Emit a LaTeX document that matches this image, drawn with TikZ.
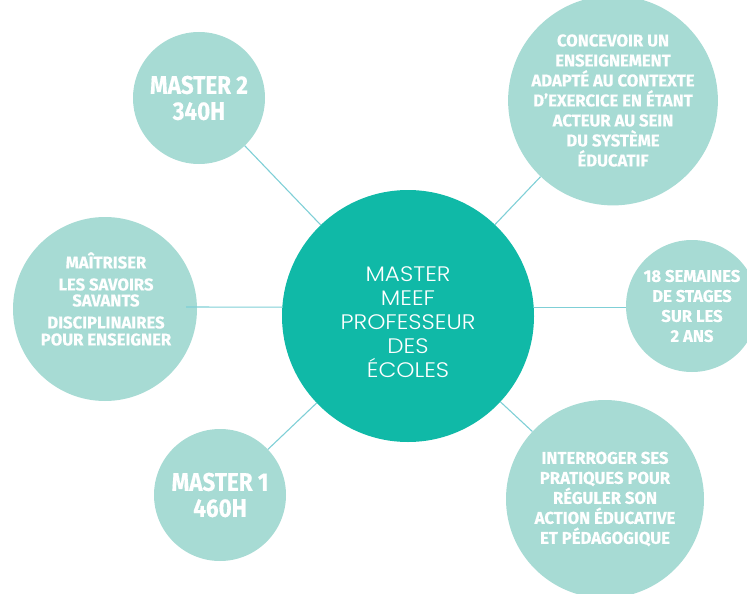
\documentclass[tikz,border=0pt]{standalone}
\usepackage{fontspec}
\newfontfamily\condfont[FakeStretch=0.88,FakeBold=0.4]{Fira Sans Bold}
\newfontfamily\midfont[FakeStretch=0.98,FakeBold=0.5]{Fira Sans Bold}
\newfontfamily\ctrfont[FakeStretch=1.1]{Poppins Light}
\definecolor{outerfill}{HTML}{A7DBD4}
\definecolor{centerfill}{HTML}{10B9A7}
\definecolor{linkcol}{HTML}{7FCFD6}
\begin{document}
\begin{tikzpicture}[x=1pt,y=-1pt,
  bubble/.style={circle, fill=outerfill, draw=none, inner sep=0pt, text=white, align=center},
  big/.style={font=\condfont\fontsize{25.5}{26}\selectfont},
  mid/.style={font=\midfont\fontsize{17}{20}\selectfont},
  hub/.style={circle, fill=centerfill, draw=none, inner sep=0pt},
  hubtext/.style={text=white, align=center, inner sep=0pt, font=\ctrfont\fontsize{21}{24}\selectfont},
  link/.style={draw=linkcol, line width=1.1pt}]
\useasboundingbox (0,0) rectangle (747,594);
% nodes
\node[hub, minimum size=252pt] (c) at (408,316) {};
\node[bubble, big, minimum size=132pt] (m2) at (199,98) {MASTER 2\\340H};
\node[bubble, mid, minimum size=187pt] (tr) at (613,100.5) {CONCEVOIR UN\\ENSEIGNEMENT\\ADAPTÉ AU CONTEXTE\\D’EXERCICE EN ÉTANT\\ACTEUR AU SEIN\\DU SYSTÈME\\ÉDUCATIF};
\node[bubble, minimum size=184pt] (l) at (105,309) {};
\node[bubble, mid, minimum size=132pt] (r) at (692,306) {18 SEMAINES\\DE STAGES\\SUR LES\\2 ANS};
\node[bubble, big, minimum size=132pt] (m1) at (220,495) {MASTER 1\\460H};
\node[bubble, mid, minimum size=198pt] (br) at (605,499) {INTERROGER SES\\PRATIQUES POUR\\RÉGULER SON\\ACTION ÉDUCATIVE\\ET PÉDAGOGIQUE};
% texts
\node[hubtext] (ct) at (408,322.5) {MASTER\\MEEF\\PROFESSEUR\\DES\\ÉCOLES};
\node[text=white, align=center, inner sep=0pt, mid] (lt) at (106,299) {MAÎTRISER\\[2pt]LES SAVOIRS\\[-4pt]SAVANTS\\[2pt]DISCIPLINAIRES\\[-3pt]POUR ENSEIGNER};
% connectors
\coordinate (lend) at (186,307);
\draw[link] (m2) -- (c);
\draw[link] (tr) -- (c);
\draw[link] (lend) -- (c.176);
\draw[link] (c.4) -- (c.4 -| r.west);
\draw[link] (m1) -- (c);
\draw[link] (c) -- (br);
\end{tikzpicture}
\end{document}
